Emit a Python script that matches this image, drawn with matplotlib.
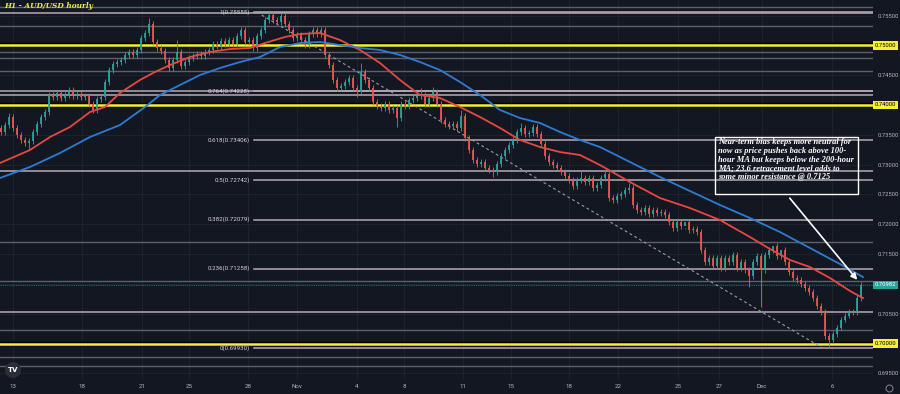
import matplotlib.pyplot as plt
from matplotlib.patches import FancyArrowPatch, Rectangle
from matplotlib.lines import Line2D

# ---------------- data ----------------
title = "H1 - AUD/USD hourly"

# 4-hour closes sampled from the hourly chart (Oct 13 -> Dec 7)
first_open = 0.7362
closes = [
    0.73547, 0.73664, 0.73798, 0.73614, 0.73496, 0.73413, 0.73362, 0.73396, 0.73547, 0.73681,
    0.73798, 0.73882, 0.74167, 0.74134, 0.74201, 0.74117, 0.74167, 0.74251, 0.74150, 0.74184,
    0.74134, 0.74150, 0.74016, 0.73916, 0.74100, 0.74134, 0.74385, 0.74586, 0.74687, 0.74720,
    0.74754, 0.74838, 0.74888, 0.74838, 0.74922, 0.75123, 0.75207, 0.75358, 0.75056, 0.74955,
    0.74905, 0.74754, 0.74620, 0.74754, 0.74888, 0.74653, 0.74720, 0.74788, 0.74821, 0.74855,
    0.74821, 0.74888, 0.74922, 0.75022, 0.74989, 0.75073, 0.75022, 0.75089, 0.75022, 0.75156,
    0.75257, 0.75056, 0.75089, 0.74955, 0.75156, 0.75257, 0.75425, 0.75508, 0.75425, 0.75391,
    0.75492, 0.75358, 0.75257, 0.75123, 0.75173, 0.75089, 0.75006, 0.75190, 0.75257, 0.75190,
    0.75257, 0.74838, 0.74670, 0.74419, 0.74285, 0.74318, 0.74385, 0.74452, 0.74285, 0.74217,
    0.74553, 0.74419, 0.74285, 0.74050, 0.73983, 0.73949, 0.74016, 0.73916, 0.73949, 0.73781,
    0.74016, 0.73983, 0.74083, 0.74117, 0.74150, 0.74167, 0.74016, 0.74117, 0.74217, 0.74016,
    0.73748, 0.73681, 0.73647, 0.73681, 0.73614, 0.73815, 0.73446, 0.73245, 0.73077, 0.73010,
    0.73044, 0.72943, 0.72910, 0.72876, 0.73010, 0.73144, 0.73245, 0.73329, 0.73413, 0.73547,
    0.73614, 0.73513, 0.73530, 0.73631, 0.73513, 0.73346, 0.73144, 0.73044, 0.72993, 0.72943,
    0.72876, 0.72809, 0.72742, 0.72641, 0.72742, 0.72775, 0.72708, 0.72775, 0.72608, 0.72658,
    0.72775, 0.72843, 0.72440, 0.72407, 0.72474, 0.72507, 0.72574, 0.72608, 0.72323, 0.72239,
    0.72205, 0.72273, 0.72172, 0.72239, 0.72189, 0.72205, 0.72155, 0.72038, 0.71937, 0.72038,
    0.71971, 0.72038, 0.71904, 0.71920, 0.71870, 0.71568, 0.71367, 0.71434, 0.71300, 0.71434,
    0.71266, 0.71434, 0.71367, 0.71484, 0.71266, 0.71367, 0.71233, 0.71132, 0.71367, 0.71468,
    0.71233, 0.71484, 0.71568, 0.71635, 0.71468, 0.71568, 0.71367, 0.71199, 0.71099, 0.71065,
    0.70998, 0.70931, 0.70864, 0.70763, 0.70629, 0.70529, 0.70126, 0.70059, 0.70160, 0.70267,
    0.70401, 0.70468, 0.70535, 0.70529, 0.70763, 0.70982,
]
hours_per_candle = 4

# noticeable wicks (candle index -> price)
spike_highs = {2: 0.73865, 37: 0.75458, 44: 0.75089, 67: 0.75555, 70: 0.75542, 90: 0.74704,
               105: 0.74285, 108: 0.74301, 115: 0.73916, 130: 0.73698, 145: 0.72910,
               151: 0.72910, 157: 0.72692, 171: 0.71945, 193: 0.71576, 195: 0.71576}
spike_lows = {7: 0.73245, 89: 0.74134, 99: 0.73631, 123: 0.72792, 187: 0.70948,
              190: 0.70613, 207: 0.69930}

# 100-hour MA (red) and 200-hour MA (blue), hour index -> price
red_ma_t = [0, 30, 50, 70, 90, 105, 120, 140, 155, 170, 190, 210, 230, 250, 265, 285, 300, 320,
            340, 360, 380, 400, 420, 440, 460, 480, 500, 520, 540, 560, 580, 600, 630, 660, 690,
            720, 750, 770, 790, 810, 830, 850, 863]
red_ma = [0.73027, 0.73245, 0.73463, 0.73631, 0.73882, 0.73966, 0.74201, 0.74419, 0.74553,
          0.74670, 0.74804, 0.74888, 0.74938, 0.74955, 0.75039, 0.75140, 0.75190, 0.75207,
          0.75089, 0.74922, 0.74704, 0.74419, 0.74167, 0.74117, 0.73966, 0.73798, 0.73614,
          0.73413, 0.73295, 0.73211, 0.73161, 0.72993, 0.72708, 0.72440, 0.72272, 0.72071,
          0.71786, 0.71585, 0.71401, 0.71283, 0.71099, 0.70881, 0.70763]
blue_ma_t = [0, 30, 60, 90, 120, 145, 160, 180, 200, 220, 240, 260, 280, 300, 320, 340, 360,
             380, 400, 420, 440, 460, 480, 500, 520, 540, 560, 580, 600, 630, 660, 690, 720,
             750, 780, 810, 840, 863]
blue_ma = [0.72776, 0.72960, 0.73195, 0.73463, 0.73664, 0.73966, 0.74167, 0.74335, 0.74502,
           0.74620, 0.74720, 0.74804, 0.74972, 0.75039, 0.75056, 0.75006, 0.74955, 0.74922,
           0.74838, 0.74720, 0.74586, 0.74385, 0.74167, 0.73916, 0.73781, 0.73698, 0.73547,
           0.73413, 0.73295, 0.73044, 0.72792, 0.72557, 0.72323, 0.72105, 0.71870, 0.71602,
           0.71333, 0.71115]

# horizontal levels
yellow_levels = [0.7500, 0.7400, 0.7000]
bright_levels = [0.7555, 0.7423, 0.7417, 0.7290, 0.7053]
dim_levels = [0.7564, 0.7532, 0.7489, 0.7478, 0.7457, 0.7171, 0.7105, 0.7023, 0.6978, 0.6963]

# fibonacci retracement of the Oct 28 high -> Dec 3 low
fib_high = 0.75555
fib_low = 0.69930
fib_ratios = [1, 0.764, 0.618, 0.5, 0.382, 0.236, 0]
fib_high_t = 257
fib_low_t = 822

last_price = 0.70982

date_ticks = [13, 82, 142, 189, 248, 297, 357, 404, 463, 511, 569, 618, 678, 719, 762, 832]
date_labels = ['13', '18', '21', '25', '28', 'Nov', '4', '8', '11', '15', '18', '22', '25',
               '27', 'Dec', '6']
price_ticks = [0.755, 0.745, 0.735, 0.730, 0.725, 0.720, 0.715, 0.705, 0.695]

note = ("Near-term bias keeps more neutral for\n"
        "now as price pushes back above 100-\n"
        "hour MA but keeps below the 200-hour\n"
        "MA; 23.6 retracement level adds to\n"
        "some minor resistance @ 0.7125")

# ---------------- styling ----------------
bg = '#131722'
up_col = '#26a69a'
dn_col = '#ef5350'
txt_col = '#b2b5be'
tick_font = 'Roboto'

fig = plt.figure(figsize=(9, 3.94), dpi=100, facecolor=bg)
ax = fig.add_axes([0, 14 / 394, 873 / 900, 380 / 394], facecolor=bg)
ax.set_xlim(0, 873)
ax.set_ylim(0.69389, 0.7576)
for s in ax.spines.values():
    s.set_visible(False)

# grid
for t in date_ticks:
    ax.axvline(t, color='#1e222d', lw=0.8, zorder=0)
for p in price_ticks + [0.75, 0.74, 0.71, 0.70]:
    ax.axhline(p, color='#1e222d', lw=0.8, zorder=0)

# horizontal levels
for p in dim_levels:
    ax.axhline(p, color='#5d606b', lw=1.0, zorder=1)
for p in bright_levels:
    ax.axhline(p, color='#b7aab4', lw=1.1, zorder=1)
for p in yellow_levels:
    ax.axhline(p, color='#000000', lw=3.2, zorder=2)
    ax.axhline(p, color='#f5f033', lw=1.8, zorder=2)
ax.axhline(last_price, color=up_col, lw=0.8, ls=(0, (1, 1)), alpha=0.6, zorder=1)

# fib levels + labels
for r in fib_ratios:
    lvl = fib_low + r * (fib_high - fib_low)
    ax.plot([254, 873], [lvl, lvl], color='#b7aab4', lw=1.1, zorder=1)
    lab = '{:g}({:.5f})'.format(r, lvl)
    ax.text(250, lvl, lab, color='#ddd3db', fontsize=4.4, family=tick_font,
            ha='right', va='center', zorder=3)
ax.plot([fib_high_t, fib_low_t], [fib_high, fib_low], color='#9a9da6', lw=0.8,
        ls=(0, (2.5, 2.5)), zorder=2)

# candles
t = [1 + hours_per_candle * i for i in range(len(closes))]
opens = [first_open] + closes[:-1]
wick = 0.00045
cols, lows, highs, bottoms, heights = [], [], [], [], []
for i, (o, c) in enumerate(zip(opens, closes)):
    cols.append(up_col if c >= o else dn_col)
    highs.append(spike_highs.get(i, max(o, c) + wick))
    lows.append(spike_lows.get(i, min(o, c) - wick))
    bottoms.append(min(o, c))
    heights.append(max(abs(c - o), 0.00008))
ax.vlines(t, lows, highs, colors=cols, lw=0.7, alpha=0.9, zorder=4)
ax.bar(t, heights, bottom=bottoms, width=2.2, color=cols, alpha=0.9, lw=0, zorder=4)

# moving averages
ax.plot(red_ma_t, red_ma, color='#e9473f', lw=1.3, zorder=5)
ax.plot(blue_ma_t, blue_ma, color='#2f7bd3', lw=1.3, zorder=5)

# annotation box + arrow
ax.add_patch(Rectangle((715, 0.72507), 143, 0.00956, fill=False, ec='white', lw=1.0, zorder=6))
ax.text(718.5, 0.73440, note, color='white', fontsize=6.05, family='Liberation Serif',
        fontweight='bold', style='italic', ha='left', va='top', linespacing=1.12, zorder=7)
ax.add_patch(FancyArrowPatch((788, 0.72474), (859, 0.71032), arrowstyle='-|>',
                             mutation_scale=9, color='white', lw=1.2, zorder=7))

# right price axis
ax.yaxis.tick_right()
ax.set_yticks(price_ticks)
ax.set_yticklabels(['{:.5f}'.format(p) for p in price_ticks])
ax.tick_params(axis='y', length=0, pad=3, labelsize=4.2, labelcolor=txt_col)
for p in yellow_levels:
    ax.text(1.002, p, '{:.5f}'.format(p), transform=ax.get_yaxis_transform(),
            fontsize=4.2, family=tick_font, color='black', ha='left', va='center',
            bbox=dict(boxstyle='square,pad=0.3', fc='#f5f033', ec='none'), zorder=8,
            clip_on=False)
ax.text(1.002, last_price, '{:.5f}'.format(last_price), transform=ax.get_yaxis_transform(),
        fontsize=4.2, family=tick_font, color='white', ha='left', va='center',
        bbox=dict(boxstyle='square,pad=0.3', fc=up_col, ec='none'), zorder=8, clip_on=False)

# date axis
ax.set_xticks(date_ticks)
ax.set_xticklabels(date_labels)
ax.tick_params(axis='x', length=0, pad=3, labelsize=4.4, labelcolor=txt_col)
for lab in ax.get_xticklabels() + ax.get_yticklabels():
    lab.set_family(tick_font)

# title and small icons
fig.text(4 / 900, 1 - 6 / 394, title, color='#ecec4c', fontsize=5.3, family='DejaVu Serif',
         fontweight='bold', style='italic', ha='left', va='center')
ax.text(13, 0.69556, 'TV', color='white', fontsize=5, fontweight='bold', ha='center',
        va='center', bbox=dict(boxstyle='circle,pad=0.4', fc='#2a2e39', ec='none'), zorder=8)
fig.add_artist(Line2D([889 / 900], [1 - 388 / 394], marker='o', ms=5, mfc='none',
                      mec='#787b86', mew=0.8, transform=fig.transFigure))

fig.savefig('out.png', dpi=100, facecolor=bg)
